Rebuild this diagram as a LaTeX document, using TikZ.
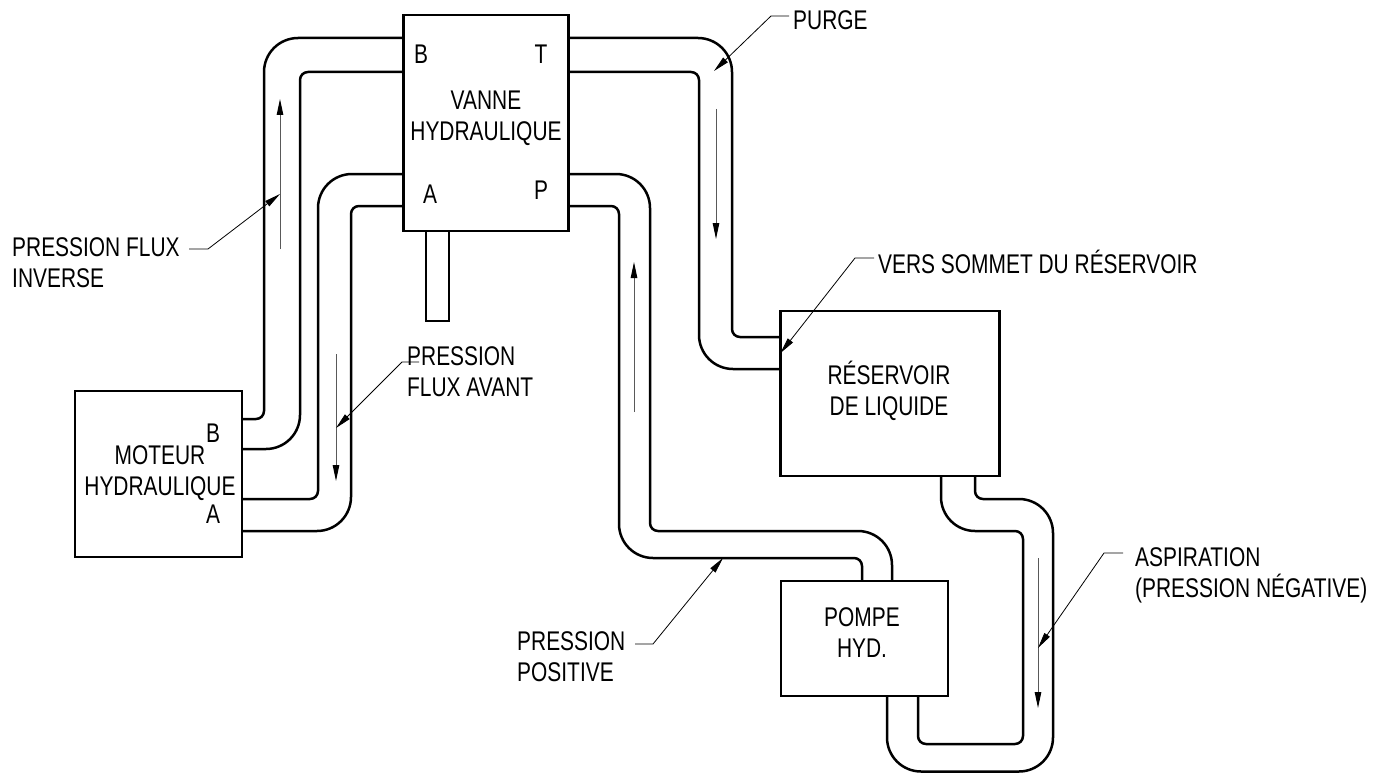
\documentclass[tikz,border=0pt]{standalone}
\usepackage{fontspec}
\setmainfont[FakeStretch=0.775]{Liberation Sans}
\usetikzlibrary{arrows.meta}
\tikzset{
  x=1pt,y=-1pt,
  boxnode/.style={draw=black,line width=2.5pt,inner sep=0pt,outer sep=0pt,fill=none},
  pipe/.style={draw=black,line width=2.5pt,line cap=butt,line join=round},
  flow/.style={draw=black!65,line width=1pt,-{Triangle[length=16pt,width=6.5pt,color=black]}},
  leader/.style={draw=black,line width=.8pt,-{Triangle[length=16pt,width=6.5pt]}},
  lbl/.style={inner sep=0pt,font=\fontsize{27}{31}\selectfont,text=black},
  lblc/.style={lbl,align=center,anchor=center},
  lbll/.style={lbl,align=left,anchor=west},
}
\begin{document}
\begin{tikzpicture}
\useasboundingbox (0,0) rectangle (1384,773);
% boxes
\node[boxnode,minimum width=165pt,minimum height=216pt] (valve) at (486,123) {};
\node[boxnode,minimum width=23pt,minimum height=90pt,anchor=north] (stub) at (437.5,231) {};
\node[boxnode,minimum width=167pt,minimum height=166pt] (motor) at (158.5,474) {};
\node[boxnode,minimum width=219pt,minimum height=165pt] (tank) at (890,393.5) {};
\node[boxnode,minimum width=167pt,minimum height=115pt] (pump) at (864.5,638.5) {};
% box texts
\node[lblc] (tvalve) at (486,118.5) {VANNE\\HYDRAULIQUE};
\node[lblc] (tmotor) at (160,473) {MOTEUR\\HYDRAULIQUE};
\node[lblc] (ttank) at (889,390.5) {RÉSERVOIR\\DE LIQUIDE};
\node[lblc] (tpump) at (862,632.5) {POMPE\\HYD.};
\node[lblc] (pb) at (421,54) {B};
\node[lblc] (pt) at (541,54) {T};
\node[lblc] (pa) at (430,194) {A};
\node[lblc] (pp) at (541,190) {P};
\node[lblc] (mb) at (213,433) {B};
\node[lblc] (ma) at (213,514) {A};
% pipes
\draw[pipe] (valve.west |- 0,38) [rounded corners=34pt] -- (264,38) [rounded corners=8pt] -- (264,419) [sharp corners] -- (motor.east |- 0,419);
\draw[pipe] (valve.west |- 0,72) [rounded corners=8pt] -- (300,72) [rounded corners=34pt] -- (300,449) [sharp corners] -- (motor.east |- 0,449);
\draw[pipe] (valve.west |- 0,174) [rounded corners=34pt] -- (318,174) [rounded corners=8pt] -- (318,499) [sharp corners] -- (motor.east |- 0,499);
\draw[pipe] (valve.west |- 0,206) [rounded corners=8pt] -- (351,206) [rounded corners=34pt] -- (351,531) [sharp corners] -- (motor.east |- 0,531);
\draw[pipe] (valve.east |- 0,38) [rounded corners=34pt] -- (732,38) [rounded corners=8pt] -- (732,337) [sharp corners] -- (tank.west |- 0,337);
\draw[pipe] (valve.east |- 0,72) [rounded corners=8pt] -- (699,72) [rounded corners=34pt] -- (699,369) [sharp corners] -- (tank.west |- 0,369);
\draw[pipe] (valve.east |- 0,174) [rounded corners=34pt] -- (650,174) [rounded corners=8pt] -- (650,531) [rounded corners=34pt] -- (892,531) [sharp corners] -- (892,0 |- pump.north);
\draw[pipe] (valve.east |- 0,206) [rounded corners=8pt] -- (619,206) [rounded corners=34pt] -- (619,558) [rounded corners=8pt] -- (862,558) [sharp corners] -- (862,0 |- pump.north);
\draw[pipe] (941,0 |- tank.south) [rounded corners=34pt] -- (941,531) [rounded corners=8pt] -- (1023,531) -- (1023,744) -- (918,744) [sharp corners] -- (918,0 |- pump.south);
\draw[pipe] (975,0 |- tank.south) [rounded corners=8pt] -- (975,499) [rounded corners=34pt] -- (1053,499) -- (1053,771.5) -- (887,771.5) [sharp corners] -- (887,0 |- pump.south);
% flow arrows
\coordinate (f1a) at (280,249); \coordinate (f1b) at (280,99);
\coordinate (f2a) at (336,354); \coordinate (f2b) at (336,481);
\coordinate (f3a) at (716,109); \coordinate (f3b) at (716,239);
\coordinate (f4a) at (634,412); \coordinate (f4b) at (634,262);
\coordinate (f5a) at (1038,558); \coordinate (f5b) at (1038,708);
\draw[flow] (f1a) -- (f1b);
\draw[flow] (f2a) -- (f2b);
\draw[flow] (f3a) -- (f3b);
\draw[flow] (f4a) -- (f4b);
\draw[flow] (f5a) -- (f5b);
% labels
\node[lbll] (lfi) at (12,263) {PRESSION FLUX\\INVERSE};
\node[lbll] (lfa) at (407,372) {PRESSION\\FLUX AVANT};
\node[lbll] (lpu) at (793,20) {PURGE};
\node[lbll] (lve) at (878,262) {VERS SOMMET DU RÉSERVOIR};
\node[lbll] (lpo) at (517,657) {PRESSION\\POSITIVE};
\node[lbll] (las) at (1135,575) {ASPIRATION\\(PRESSION NÉGATIVE)};
% leaders
\coordinate (a1) at (189,249); \coordinate (a2) at (419,362); \coordinate (a3) at (789,16);
\coordinate (a4) at (874,258); \coordinate (a5) at (635,644); \coordinate (a6) at (1123,553);
\draw[leader] (a1) -- (208,249) -- (f1a |- 0,194);
\draw[leader] (a2) -- (402,362) -- (f2a |- 0,428);
\draw[leader] (a3) -- (771,16) -- (714,71);
\draw[leader] (a4) -- (855,258) -- (tank.west |- 0,353);
\draw[leader] (a5) -- (653,644) -- (723,558);
\draw[leader] (a6) -- (1104,553) -- (f5a |- 0,648);
\end{tikzpicture}
\end{document}
